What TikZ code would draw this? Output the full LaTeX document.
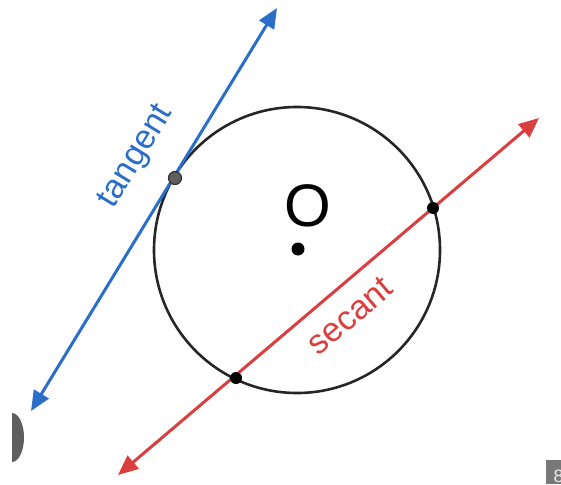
\documentclass[tikz,border=0pt]{standalone}
\usepackage{fontspec}
\setmainfont{Liberation Sans}
\usetikzlibrary{arrows.meta}
\definecolor{tblue}{RGB}{42,110,200}
\definecolor{sred}{RGB}{218,62,62}
\definecolor{dotgray}{RGB}{95,95,95}
\definecolor{boxgray}{RGB}{120,120,120}
\begin{document}
\begin{tikzpicture}[x=1pt,y=-1pt,
  tarrow/.style={line width=3pt,{Triangle[length=20pt,width=17pt]}-{Triangle[length=20pt,width=17pt]}},
  ptdot/.style={circle,fill=black,inner sep=0pt,minimum size=12pt},
  lbl/.style={font=\fontsize{34}{34}\selectfont,inner sep=0pt}]
\useasboundingbox (0,0) rectangle (561,484);
% side decorations
\begin{scope}
\clip (12,400) rectangle (40,470);
\fill[dotgray] (12,437.5) ellipse [x radius=12, y radius=24.5];
\end{scope}
\begin{scope}
\clip (0,0) rectangle (561,484);
\fill[boxgray] (546,460) rectangle (561,484);
\node[anchor=west,text=white!85!gray,font=\fontsize{18}{18}\selectfont,inner sep=0pt] (eight) at (553.5,476) {8};
\end{scope}
% circle
\node[circle,draw=black!85,line width=2.6pt,minimum size=286pt,inner sep=0pt] (circ) at (297,250) {};
\node[circle,fill=black,inner sep=0pt,minimum size=13pt] (ctr) at (298,249) {};
\node[font=\fontsize{60}{60}\selectfont,inner sep=0pt] (O) at (307.5,206) {O};
% tangent
\coordinate (tA) at (31,411);
\coordinate (tB) at (277,8);
\draw[tarrow,tblue] (tA) -- (tB);
\node[circle,fill=dotgray,draw=black!80,line width=1.2pt,inner sep=0pt,minimum size=13pt] (tp) at (175,178) {};
\node[lbl,text=tblue,rotate=58.6] (tangent) at (137,157) {tangent};
% secant
\coordinate (sA) at (118,475);
\coordinate (sB) at (539,118);
\draw[tarrow,sred] (sA) -- (sB);
\node[ptdot] (p1) at (236,378) {};
\node[ptdot] (p2) at (433,208) {};
\node[lbl,text=sred,rotate=40.4] (secant) at (350,316) {secant};
\end{tikzpicture}
\end{document}
